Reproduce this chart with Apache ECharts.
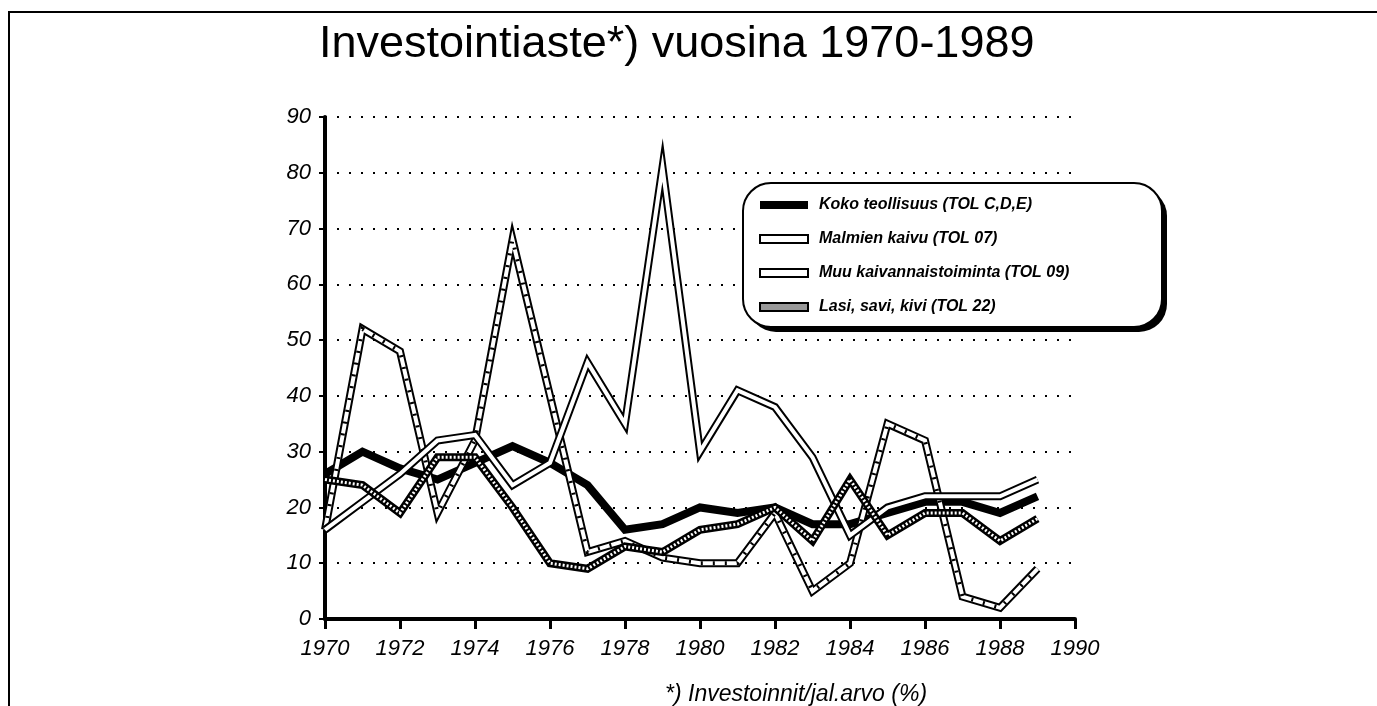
<!DOCTYPE html>
<html>
<head>
<meta charset="utf-8">
<script src="https://cdn.jsdelivr.net/npm/echarts@6/dist/echarts.min.js"></script>
<style>
html,body{margin:0;padding:0;background:#fff;}
#c{width:1377px;height:706px;}
</style>
</head>
<body>
<div id="c"></div>
<script>
const years = [1970,1971,1972,1973,1974,1975,1976,1977,1978,1979,1980,1981,1982,1983,1984,1985,1986,1987,1988,1989];
const koko = [26,30,27,25,28,31,28,24,16,17,20,19,20,17,17,19,21,21,19,22];
const malmien = [16,52,48,19,32,68,40,12,14,11,10,10,19,5,10,35,32,4,2,9];
const muu = [16,21,26,32,33,24,28,46,35,81,30,41,38,29,15,20,22,22,22,25];
const lasi = [25,24,19,29,29,20,10,9,13,12,16,17,20,14,25,15,19,19,14,18];
const names = ['Koko teollisuus (TOL C,D,E)','Malmien kaivu (TOL 07)','Muu kaivannaistoiminta (TOL 09)','Lasi, savi, kivi (TOL 22)'];
const titleText = 'Investointiaste*) vuosina 1970-1989';
const captionText = '*) Investoinnit/jal.arvo (%)';

function pts(vals){ return years.map((y,i)=>[y, vals[i]]); }
function line(name, vals, color, width, type, z){
  return {type:'line', name:name, data:pts(vals), showSymbol:false, silent:true, z:z,
    lineStyle:{color:color, width:width, type:type||'solid', join:'miter', miterLimit:10, cap:'butt'},
    itemStyle:{color:color}};
}
const chart = echarts.init(document.getElementById('c'), null, {renderer:'canvas'});
const font = 'Liberation Sans, Arial, sans-serif';
chart.setOption({
  animation:false,
  backgroundColor:'#fff',
  title:[
    {text:titleText, left:314, top:17, textStyle:{fontFamily:font, fontSize:45, fontWeight:'normal', color:'#000'}},
    {text:captionText, left:660, top:678, textStyle:{fontFamily:font, fontSize:23, fontStyle:'italic', fontWeight:'normal', color:'#000'}}
  ],
  grid:{left:325, right:302, top:117, bottom:87, containLabel:false},
  xAxis:{type:'value', min:1970, max:1990, interval:2,
    axisLine:{show:true, lineStyle:{color:'#000', width:4}},
    axisTick:{show:true, length:10, lineStyle:{color:'#000', width:3}},
    axisLabel:{color:'#000', fontFamily:font, fontSize:22, fontStyle:'italic', margin:19, formatter:v=>String(v)},
    splitLine:{show:false}},
  yAxis:{type:'value', min:0, max:90, interval:10,
    axisLine:{show:true, lineStyle:{color:'#000', width:4}},
    axisTick:{show:true, length:6, lineStyle:{color:'#000', width:2}},
    axisLabel:{color:'#000', fontFamily:font, fontSize:22, fontStyle:'italic', margin:14, padding:[0,0,14,0]},
    splitLine:{show:true, lineStyle:{color:'#000', width:2, type:[2,10]}}},
  legend:{
    left:759, top:197, orient:'vertical', z:12,
    padding:0, itemGap:18, itemWidth:48, itemHeight:8,
    textStyle:{fontFamily:font, fontSize:16, fontWeight:'bold', fontStyle:'italic', color:'#000', padding:[0,0,0,6]},
    selectedMode:false,
    data:[
      {name:names[0], icon:'rect', itemStyle:{color:'#000'}},
      {name:names[1], icon:'rect', itemStyle:{color:'#fff', borderColor:'#000', borderWidth:2}},
      {name:names[2], icon:'rect', itemStyle:{color:'#fff', borderColor:'#000', borderWidth:2}},
      {name:names[3], icon:'rect', itemStyle:{color:'#999', borderColor:'#000', borderWidth:2}}
    ]
  },
  graphic:[
    {type:'polyline', z:1, shape:{points:[[9,706],[9,12],[1377,12]]}, style:{stroke:'#000', lineWidth:2, fill:null}, silent:true},
    {type:'rect', z:10, shape:{x:748, y:188, width:419, height:144, r:28}, style:{fill:'#000'}, silent:true},
    {type:'rect', z:11, shape:{x:743, y:183, width:419, height:144, r:28}, style:{fill:'#fff', stroke:'#000', lineWidth:2}, silent:true}
  ],
  series:[
    line(names[0], koko, '#000', 8, 'solid', 2),
    line(names[1], malmien, '#000', 8, 'solid', 3),
    line('m_in', malmien, '#fff', 4, 'solid', 3),
    line('m_h', malmien, '#000', 4, [2,10], 3),
    line(names[2], muu, '#000', 8, 'solid', 4),
    line('u_in', muu, '#fff', 4, 'solid', 4),
    line(names[3], lasi, '#000', 8, 'solid', 5),
    line('l_in', lasi, '#fff', 3, [2,2], 5)
  ]
});
</script>
</body>
</html>
